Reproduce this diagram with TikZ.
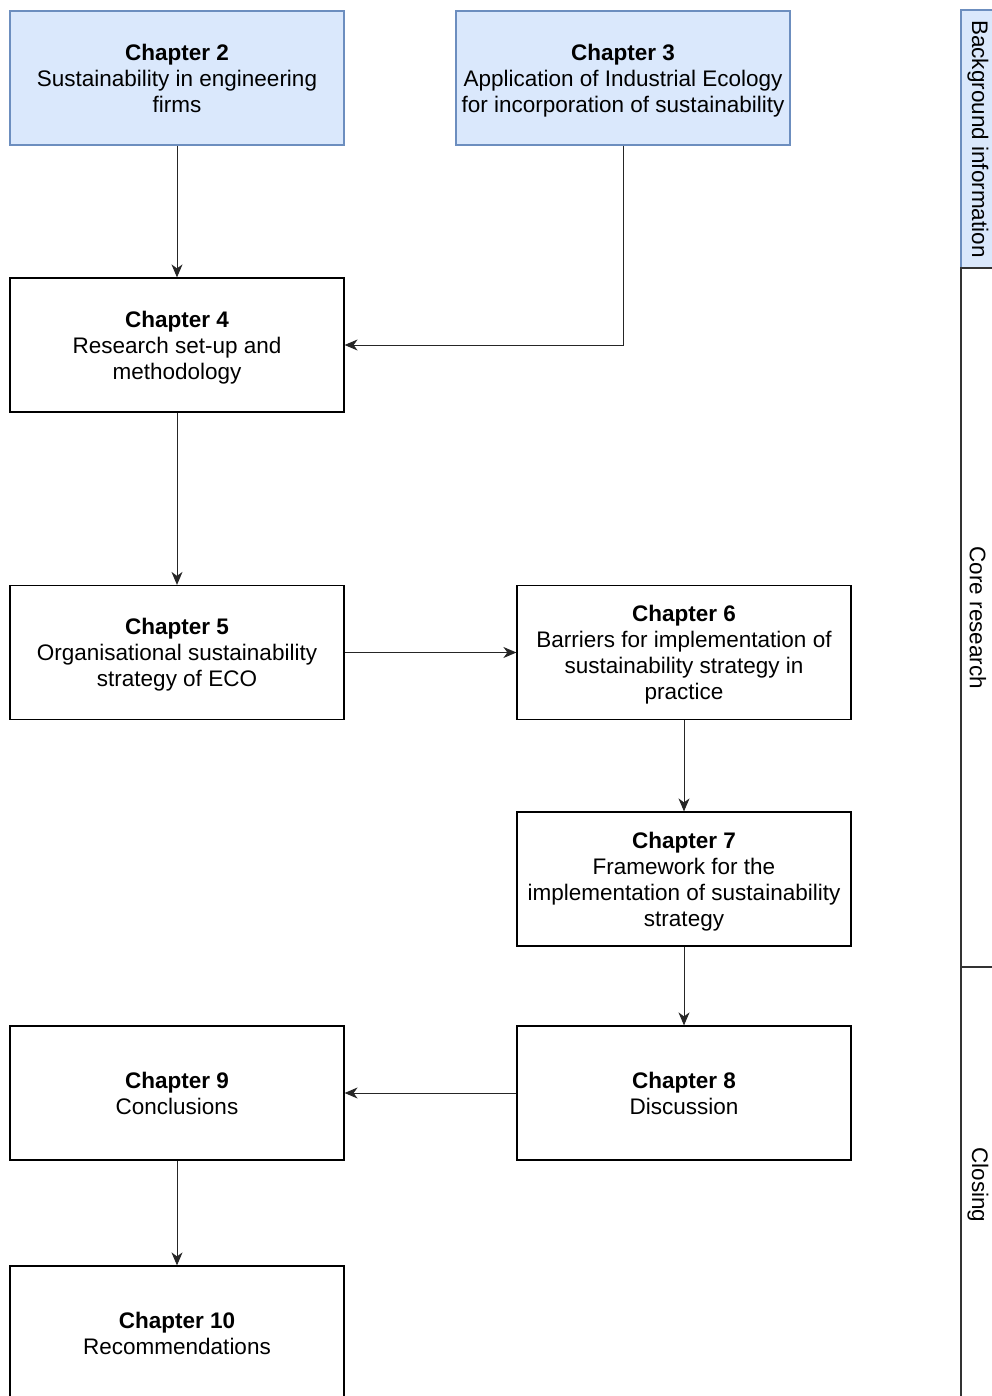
\documentclass[tikz,border=0pt]{standalone}
\usepackage{fontspec}
\setmainfont{Liberation Sans}
\usetikzlibrary{arrows.meta}
\definecolor{bluefill}{HTML}{DAE8FC}
\definecolor{blueline}{HTML}{6C8EBF}
\newcommand\ts{\rule{0pt}{21.5pt}}
\newcommand\bs{\rule[-5pt]{0pt}{5pt}}
\tikzset{
  chap/.style={draw=black, line width=1.2pt, fill=white, minimum width=334pt, minimum height=134pt,
    align=center, inner sep=2pt, font=\fontsize{22.5}{26}\selectfont, text=black},
  bluechap/.style={chap, draw=blueline, fill=bluefill},
  lanebox/.style={draw=black!80, line width=1.2pt, fill=white, minimum width=40pt, inner sep=0pt},
  lanetext/.style={rotate=-90, font=\fontsize{22.5}{26}\selectfont, inner sep=0pt},
  conn/.style={draw=black!85, line width=1pt, -{Stealth[length=13pt,width=11pt,inset=4pt]}}
}
\begin{document}
\begin{tikzpicture}[x=1pt,y=-1pt]
\clip (0,0) rectangle (992,1396);
\useasboundingbox (0,0) rectangle (992,1396);
\fill[white] (0,0) rectangle (992,1396);
% lanes
\node[lanebox, fill=bluefill, draw=blueline, minimum height=258pt] (bg) at (981,139) {};
\node[lanebox, minimum height=699pt] (core) at (981,617.5) {};
\node[lanebox, minimum height=440pt] (closing) at (981,1187) {};
\node[lanetext] (bgl) at (978,139) {Background information};
\node[lanetext] (corel) at (978,618) {Core research};
\node[lanetext] (closl) at (978,1185) {Closing};
% chapters
\node[bluechap] (c2) at (177,78) {\ts\textbf{Chapter 2}\\Sustainability in engineering\\firms\bs};
\node[bluechap] (c3) at (623,78) {\ts\textbf{Chapter 3}\\Application of Industrial Ecology\\for incorporation of sustainability\bs};
\node[chap] (c4) at (177,345) {\ts\textbf{Chapter 4}\\Research set-up and\\methodology\bs};
\node[chap] (c5) at (177,652.5) {\ts\textbf{Chapter 5}\\Organisational sustainability\\strategy of ECO\bs};
\node[chap] (c6) at (684,652.5) {\ts\textbf{Chapter 6}\\Barriers for implementation of\\sustainability strategy in\\practice\bs};
\node[chap] (c7) at (684,879) {\ts\textbf{Chapter 7}\\Framework for the\\implementation of sustainability\\strategy\bs};
\node[chap] (c8) at (684,1093) {\ts\textbf{Chapter 8}\\Discussion\bs};
\node[chap] (c9) at (177,1093) {\ts\textbf{Chapter 9}\\Conclusions\bs};
\node[chap] (c10) at (177,1333) {\ts\textbf{Chapter 10}\\Recommendations\bs};
% connectors
\draw[conn] (c2) -- (c4);
\draw[conn] (c3.south) |- (c4.east);
\draw[conn] (c4) -- (c5);
\draw[conn] (c5) -- (c6);
\draw[conn] (c6) -- (c7);
\draw[conn] (c7) -- (c8);
\draw[conn] (c8) -- (c9);
\draw[conn] (c9) -- (c10);
\end{tikzpicture}
\end{document}
